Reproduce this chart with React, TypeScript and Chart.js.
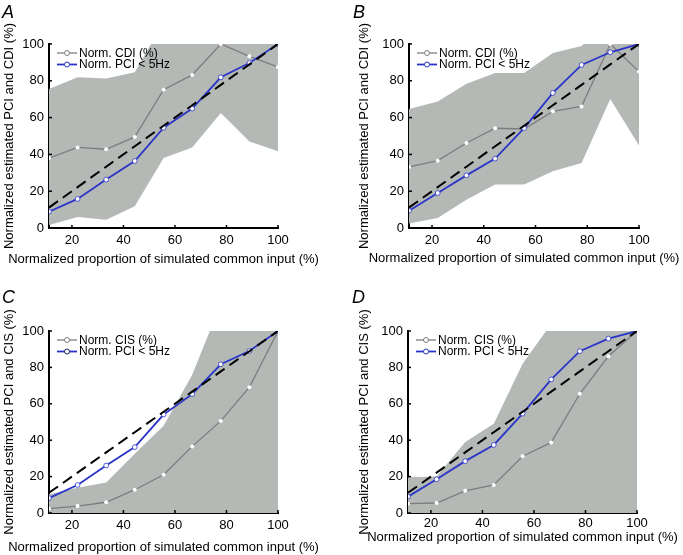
import React, { useEffect, useRef } from "react";
import { Chart, registerables } from "chart.js";

Chart.register(...registerables);

// ---------- data ----------
const xValues = [11.1, 22.2, 33.3, 44.4, 55.6, 66.7, 77.8, 88.9, 100];
const identityLine = [11.1, 22.2, 33.3, 44.4, 55.6, 66.7, 77.8, 88.9, 100];
const xTicks = [20, 40, 60, 80, 100];
const yTicks = [0, 20, 40, 60, 80, 100];

// Panel A (CDI)
const cdiA = [38, 43.8, 42.8, 49.5, 75.2, 83.2, 100, 93.3, 87.5];
const pciA = [8.9, 15.8, 26.3, 36.4, 54.5, 64.9, 81.9, 89.7, 100];
const bandUpperA = [75.5, 81.9, 81.2, 84.6, 112, 115, 115, 115, 115];
const bandLowerA = [1.6, 6, 4.5, 11.8, 38, 43.8, 62.5, 47, 41.7];

// Panel B (CDI)
const cdiB = [33.2, 36.6, 46.2, 54.2, 53.8, 63.4, 66.1, 100, 85];
const pciB = [9.4, 19, 28.6, 37.7, 54.3, 73.4, 88.6, 95.5, 100];
const bandUpperB = [64.7, 68.8, 78.4, 84.2, 84.2, 95.1, 98.9, 115, 115];
const bandLowerB = [2.4, 5.4, 15.4, 23.6, 23.6, 30.8, 35.3, 70.1, 44.9];

// Panel C (CIS)
const cisC = [2.4, 3.8, 5.9, 12.8, 21, 36.6, 50.6, 69.1, 100];
const pciC = [8.2, 15.4, 26.1, 36.2, 54.1, 65.3, 81.7, 89, 100];
const bandUpperC = [10.3, 13.9, 16.8, 32.6, 48, 76, 115, 130, 130];
const bandLowerC = [0, 0, 0, 0, 0, 0, 0, 0, 0];

// Panel D (CIS)
const cisD = [5.1, 5.5, 12.2, 15.4, 31.2, 38.8, 65.5, 86.1, 100];
const pciD = [9, 18.5, 28.5, 37.4, 54.6, 73.4, 88.9, 95.8, 100];
const bandUpperD = [19.6, 20, 39, 49, 82, 104, 120, 120, 120];
const bandLowerD = [0, 0, 0, 0, 0, 0, 0, 0, 0];

const xTitle = "Normalized proportion of simulated common input (%)";
const pciLabel = "Norm. PCI < 5Hz";

// ---------- styles ----------
const FONT = '"Liberation Sans", Arial, Helvetica, sans-serif';
const BAND = "#b4b9b6";
const GRAY = "#7d7d7d";
const BLUE = "#2b36c9";

type Area = { l: number; t: number; r: number; b: number };
type Panel = {
  letter: string;
  left: number;
  top: number;
  width: number;
  height: number;
  area: Area;
  yTitle: string;
  yTitlePad: number;
  xTitleY: number;
  xTickPad: number;
  measureLabel: string;
  pciMarker: string;
  measure: number[];
  pci: number[];
  upper: number[];
  lower: number[];
  letterX: number;
  letterY: number;
};

const panels: Panel[] = [
  {
    letter: "A", left: 0, top: 0, width: 341, height: 277,
    area: { l: 49, t: 44, r: 278, b: 228 },
    yTitle: "Normalized estimated PCI and CDI (%)", yTitlePad: 2, xTitleY: 259, xTickPad: 5,
    measureLabel: "Norm. CDI (%)", pciMarker: BLUE,
    measure: cdiA, pci: pciA, upper: bandUpperA, lower: bandLowerA,
    letterX: 2, letterY: 3,
  },
  {
    letter: "B", left: 341, top: 0, width: 342, height: 277,
    area: { l: 68, t: 44, r: 298, b: 228 },
    yTitle: "Normalized estimated PCI and CDI (%)", yTitlePad: 16, xTitleY: 258, xTickPad: 5,
    measureLabel: "Norm. CDI (%)", pciMarker: BLUE,
    measure: cdiB, pci: pciB, upper: bandUpperB, lower: bandLowerB,
    letterX: 353, letterY: 3,
  },
  {
    letter: "C", left: 0, top: 277, width: 341, height: 278,
    area: { l: 49, t: 54, r: 278, b: 236 },
    yTitle: "Normalized estimated PCI and CIS (%)", yTitlePad: 2, xTitleY: 270, xTickPad: 5,
    measureLabel: "Norm. CIS (%)", pciMarker: "#1c1f5e",
    measure: cisC, pci: pciC, upper: bandUpperC, lower: bandLowerC,
    letterX: 2, letterY: 288,
  },
  {
    letter: "D", left: 341, top: 277, width: 342, height: 278,
    area: { l: 67, t: 54, r: 296, b: 236 },
    yTitle: "Normalized estimated PCI and CIS (%)", yTitlePad: 15.5, xTitleY: 260, xTickPad: 3,
    measureLabel: "Norm. CIS (%)", pciMarker: BLUE,
    measure: cisD, pci: pciD, upper: bandUpperD, lower: bandLowerD,
    letterX: 352, letterY: 288,
  },
];

const toPoints = (ys: number[]) => xValues.map((x, i) => ({ x, y: ys[i] }));

const inwardTicks = {
  id: "inwardTicks",
  afterDraw(chart: any) {
    const { ctx, chartArea, scales } = chart;
    ctx.save();
    ctx.strokeStyle = "#000";
    ctx.lineWidth = 1.5;
    xTicks.forEach((v) => {
      const px = scales.x.getPixelForValue(v);
      ctx.beginPath();
      ctx.moveTo(px, chartArea.bottom);
      ctx.lineTo(px, chartArea.bottom - 3);
      ctx.stroke();
    });
    yTicks.forEach((v) => {
      const py = scales.y.getPixelForValue(v);
      ctx.beginPath();
      ctx.moveTo(chartArea.left, py);
      ctx.lineTo(chartArea.left + 3, py);
      ctx.stroke();
    });
    ctx.restore();
  },
};

function makeDecorPlugin(p: Panel) {
  const items = [
    { label: p.measureLabel, color: GRAY, width: 1.3, marker: GRAY },
    { label: pciLabel, color: BLUE, width: 1.8, marker: p.pciMarker },
  ];
  return {
    id: "customDecor",
    afterDraw(chart: any) {
      const { ctx, chartArea } = chart;
      ctx.save();
      items.forEach((it, i) => {
        const y = chartArea.top + 9 + i * 11.5;
        const x0 = chartArea.left + 8;
        ctx.strokeStyle = it.color;
        ctx.lineWidth = it.width;
        ctx.beginPath();
        ctx.moveTo(x0, y);
        ctx.lineTo(x0 + 20, y);
        ctx.stroke();
        ctx.beginPath();
        ctx.arc(x0 + 10, y, 2.5, 0, Math.PI * 2);
        ctx.fillStyle = "#fff";
        ctx.fill();
        ctx.strokeStyle = it.marker;
        ctx.lineWidth = 1;
        ctx.stroke();
        ctx.fillStyle = "#000";
        ctx.font = `12px ${FONT}`;
        ctx.textBaseline = "middle";
        ctx.textAlign = "left";
        ctx.fillText(it.label, x0 + 22, y + 0.5);
      });
      // x-axis title (drawn without width limit)
      ctx.fillStyle = "#000";
      ctx.font = `13px ${FONT}`;
      ctx.textAlign = "center";
      ctx.textBaseline = "middle";
      ctx.fillText(xTitle, (chartArea.left + chartArea.right) / 2, p.xTitleY);
      ctx.restore();
    },
  };
}

function PanelChart({ p }: { p: Panel }) {
  const ref = useRef<HTMLCanvasElement | null>(null);
  useEffect(() => {
    if (!ref.current) return;
    const { area, width, height } = p;
    const chart = new Chart(ref.current, {
      type: "line",
      data: {
        datasets: [
          {
            label: "identity",
            data: toPoints(identityLine),
            borderColor: "#000",
            borderWidth: 2,
            borderDash: [11, 6],
            pointRadius: 0,
            fill: false,
          },
          {
            label: pciLabel,
            data: toPoints(p.pci),
            borderColor: BLUE,
            borderWidth: 1.8,
            pointRadius: 2.4,
            pointBackgroundColor: "#fff",
            pointBorderColor: BLUE,
            pointBorderWidth: 0.8,
            fill: false,
          },
          {
            label: p.measureLabel,
            data: toPoints(p.measure),
            borderColor: GRAY,
            borderWidth: 1.3,
            pointRadius: 2,
            pointBackgroundColor: "#fff",
            pointBorderColor: "#fff",
            pointBorderWidth: 0,
            fill: false,
          },
          {
            label: "upper",
            data: toPoints(p.upper),
            borderColor: "rgba(0,0,0,0)",
            borderWidth: 0,
            pointRadius: 0,
            backgroundColor: BAND,
            fill: "+1",
          },
          {
            label: "lower",
            data: toPoints(p.lower),
            borderColor: "rgba(0,0,0,0)",
            borderWidth: 0,
            pointRadius: 0,
            fill: false,
          },
        ],
      } as any,
      options: {
        responsive: false,
        animation: false,
        devicePixelRatio: 1,
        layout: { padding: { left: 0, top: area.t, right: width - area.r, bottom: 0 } },
        plugins: { legend: { display: false }, tooltip: { enabled: false } },
        scales: {
          x: {
            type: "linear",
            min: 11.1,
            max: 100,
            afterBuildTicks: (s: any) => {
              s.ticks = xTicks.map((v) => ({ value: v }));
            },
            afterFit: (s: any) => {
              s.height = height - area.b;
            },
            grid: { display: false, drawTicks: false },
            border: { display: true, color: "#000", width: 2 },
            ticks: {
              color: "#000",
              font: { family: FONT, size: 13 },
              padding: p.xTickPad,
              maxRotation: 0,
              autoSkip: false,
            },
            title: { display: false },
          },
          y: {
            type: "linear",
            min: 0,
            max: 100,
            afterBuildTicks: (s: any) => {
              s.ticks = yTicks.map((v) => ({ value: v }));
            },
            afterFit: (s: any) => {
              s.width = area.l;
            },
            grid: { display: false, drawTicks: false },
            border: { display: true, color: "#000", width: 2 },
            ticks: {
              color: "#000",
              font: { family: FONT, size: 13 },
              padding: 5,
            },
            title: {
              display: true,
              text: p.yTitle,
              color: "#000",
              font: { family: FONT, size: 13 },
              padding: { top: p.yTitlePad, bottom: 0 },
            },
          },
        },
      } as any,
      plugins: [inwardTicks, makeDecorPlugin(p)],
    });
    return () => chart.destroy();
  }, [p]);
  return (
    <div style={{ position: "absolute", left: p.left, top: p.top, width: p.width, height: p.height }}>
      <canvas ref={ref} width={p.width} height={p.height} style={{ width: p.width, height: p.height, display: "block" }} />
    </div>
  );
}

export default function App() {
  return (
    <div style={{ position: "absolute", left: 0, top: 0, width: 683, height: 555, background: "#fff", overflow: "hidden" }}>
      {panels.map((p) => (
        <PanelChart key={p.letter} p={p} />
      ))}
      {panels.map((p) => (
        <span
          key={"l" + p.letter}
          style={{
            position: "absolute",
            left: p.letterX,
            top: p.letterY,
            fontFamily: FONT,
            fontStyle: "italic",
            fontSize: 18,
            lineHeight: "18px",
            color: "#000",
          }}
        >
          {p.letter}
        </span>
      ))}
    </div>
  );
}
